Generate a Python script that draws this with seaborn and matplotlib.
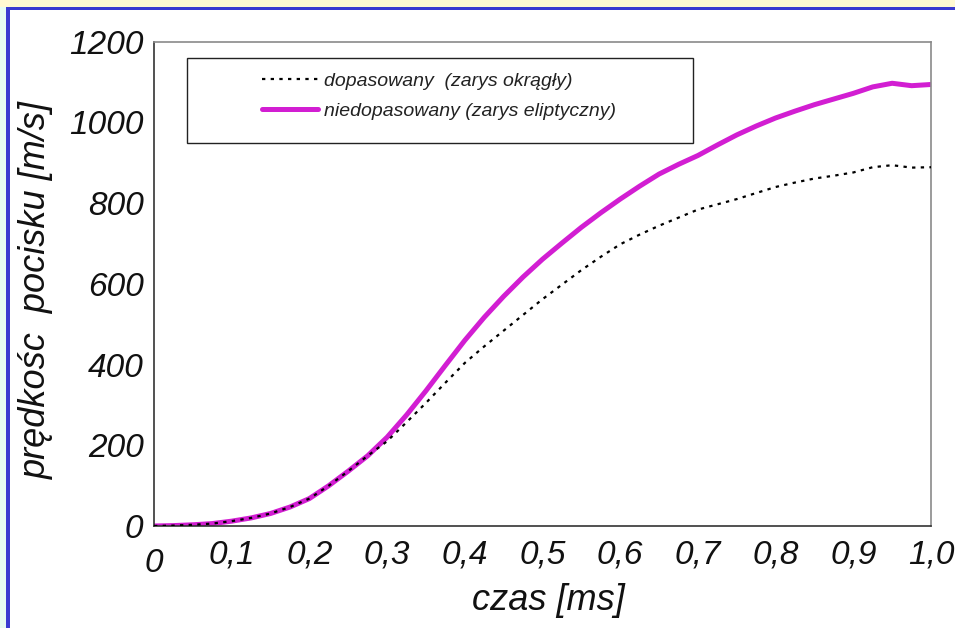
import matplotlib
matplotlib.use("Agg")
import matplotlib.pyplot as plt
import matplotlib.transforms as mtransforms
from matplotlib.patches import Rectangle
import pandas as pd
import seaborn as sns

# ---- data ----
t_ms = [0.0, 0.025, 0.05, 0.075, 0.1, 0.125, 0.15, 0.175, 0.2, 0.225,
        0.25, 0.275, 0.3, 0.325, 0.35, 0.375, 0.4, 0.425, 0.45, 0.475,
        0.5, 0.525, 0.55, 0.575, 0.6, 0.625, 0.65, 0.675, 0.7, 0.725,
        0.75, 0.775, 0.8, 0.825, 0.85, 0.875, 0.9, 0.925, 0.95, 0.975, 1.0]
v_niedopasowany = [0, 1, 3, 6, 12, 20, 31, 47, 68, 100,
                   136, 174, 220, 275, 335, 398, 460, 517, 569, 617,
                   661, 701, 740, 776, 810, 842, 872, 896, 918, 944,
                   969, 991, 1011, 1028, 1044, 1058, 1072, 1088, 1097, 1091, 1094]
v_dopasowany = [0, 1, 3, 6, 12, 20, 31, 47, 68, 100,
                136, 174, 210, 257, 305, 355, 404, 445, 484, 523,
                562, 598, 634, 667, 698, 722, 744, 764, 784, 797,
                810, 825, 840, 851, 861, 868, 876, 889, 894, 888, 889]

label_dop = "dopasowany  (zarys okrągły)"
label_nie = "niedopasowany (zarys eliptyczny)"
x_ticks = [0.0, 0.1, 0.2, 0.3, 0.4, 0.5, 0.6, 0.7, 0.8, 0.9, 1.0]
x_ticklabels = ["0", "0,1", "0,2", "0,3", "0,4", "0,5", "0,6", "0,7", "0,8", "0,9", "1,0"]
y_ticks = [0, 200, 400, 600, 800, 1000, 1200]
y_ticklabels = ["0", "200", "400", "600", "800", "1000", "1200"]
x_title = "czas [ms]"
y_title = "prędkośc  pocisku [m/s]"

df_dop = pd.DataFrame({"t": t_ms, "v": v_dopasowany})
df_nie = pd.DataFrame({"t": t_ms, "v": v_niedopasowany})

# ---- style ----
sns.set_style("white")
plt.rcParams["font.family"] = ["Liberation Sans", "DejaVu Sans"]
plt.rcParams["font.style"] = "italic"

W, H = 955, 628
fig = plt.figure(figsize=(W / 100, H / 100), dpi=100)
fig.patch.set_facecolor("white")

# decorative frame (top and left edges)
fig.patches.append(Rectangle((0, 1 - 7 / H), 1, 7 / H, transform=fig.transFigure,
                             facecolor="#FFF9D2", edgecolor="none", zorder=0))
fig.patches.append(Rectangle((0, 1 - 10 / H), 1, 3 / H, transform=fig.transFigure,
                             facecolor="#3A3AD0", edgecolor="none", zorder=0))
fig.patches.append(Rectangle((0, 0), 6 / W, 1 - 7 / H, transform=fig.transFigure,
                             facecolor="#E6FBF2", edgecolor="none", zorder=0))
fig.patches.append(Rectangle((6 / W, 0), 4 / W, 1 - 7 / H, transform=fig.transFigure,
                             facecolor="#3A3AD0", edgecolor="none", zorder=0))

ax = fig.add_axes([154 / W, 1 - 526 / H, (931 - 154) / W, (526 - 41.7) / H])
ax.set_facecolor("white")

sns.lineplot(data=df_dop, x="t", y="v", ax=ax, color="black", linewidth=1.6,
             linestyle=(0, (1.5, 2.4)), label=label_dop, zorder=3)
sns.lineplot(data=df_nie, x="t", y="v", ax=ax, color="#D21ED2", linewidth=3.6,
             label=label_nie, zorder=2)

ax.set_xlim(0, 1.0)
ax.set_ylim(0, 1200)
ax.set_xticks(x_ticks)
ax.set_xticklabels(x_ticklabels)
ax.set_yticks(y_ticks)
ax.set_yticklabels(y_ticklabels)
ax.tick_params(axis="both", direction="out", length=4.5, width=1, color="#222222",
               labelsize=24, labelcolor="#111111")
ax.tick_params(axis="x", pad=5)
ax.tick_params(axis="y", pad=3)
ax.tick_params(top=False, right=False)

for s in ["left", "bottom"]:
    ax.spines[s].set_color("#333333")
    ax.spines[s].set_linewidth(1.2)
for s in ["top", "right"]:
    ax.spines[s].set_color("#8a8a8a")
    ax.spines[s].set_linewidth(1.2)

# first x tick label sits lower in the original
lbl0 = ax.get_xticklabels()[0]
lbl0.set_transform(lbl0.get_transform() + mtransforms.ScaledTranslation(0, -9 / 100, fig.dpi_scale_trans))

ax.set_xlabel("")
ax.set_ylabel("")
fig.text(548 / W, 1 - 600 / H, x_title, ha="center", va="center", fontsize=26, color="#111111")
fig.text(36 / W, 1 - 290 / H, y_title, ha="center", va="center", rotation=90, fontsize=26,
         color="#111111")

# legend box (drawn inside the axes so the legend sits above it)
box = Rectangle((187 / W, 1 - 143 / H), (693 - 187) / W, (143 - 58) / H,
                transform=fig.transFigure, facecolor="white", edgecolor="#222222",
                linewidth=1.0, zorder=5, clip_on=False)
ax.add_patch(box)
leg = ax.legend(loc="center left", bbox_to_anchor=(262 / W, 1 - 96 / H),
                bbox_transform=fig.transFigure, frameon=False, fontsize=14,
                handlelength=2.9, handletextpad=0.3, labelspacing=0.62, borderpad=0,
                borderaxespad=0)
leg.set_zorder(6)
for txt in leg.get_texts():
    txt.set_color("#222222")

fig.savefig("out.png", dpi=100, facecolor=fig.get_facecolor())
